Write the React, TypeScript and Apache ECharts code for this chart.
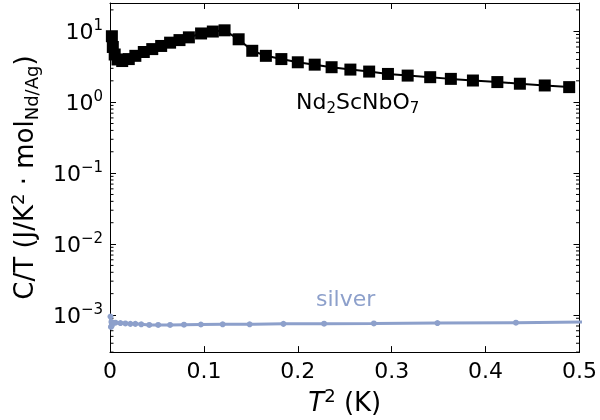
import React, { useEffect, useRef } from "react";
import * as echarts from "echarts";

const xBlack = [0.002, 0.003, 0.005, 0.008, 0.013, 0.020, 0.027, 0.036, 0.045, 0.0545, 0.064, 0.074, 0.084, 0.097, 0.1095, 0.122, 0.137, 0.1515, 0.166, 0.1825, 0.200, 0.218, 0.236, 0.256, 0.276, 0.296, 0.317, 0.341, 0.363, 0.3865, 0.4125, 0.4365, 0.463, 0.489];
const yBlack = [8.5, 6.0, 4.7, 4.0, 3.8, 4.05, 4.5, 5.1, 5.6, 6.2, 6.9, 7.5, 8.2, 9.3, 9.9, 10.3, 7.7, 5.3, 4.5, 4.05, 3.65, 3.38, 3.11, 2.88, 2.70, 2.50, 2.37, 2.25, 2.13, 2.02, 1.92, 1.82, 1.72, 1.63];

const xSilver = [0.0005, 0.001, 0.0015, 0.002, 0.0058, 0.0111, 0.0164, 0.0217, 0.027, 0.0333, 0.0418, 0.0513, 0.064, 0.0788, 0.0968, 0.120, 0.1487, 0.1847, 0.228, 0.281, 0.3487, 0.4323, 0.53];
const ySilver = [9.5e-4, 6.8e-4, 8.0e-4, 7.1e-4, 7.8e-4, 7.7e-4, 7.6e-4, 7.5e-4, 7.5e-4, 7.4e-4, 7.25e-4, 7.25e-4, 7.25e-4, 7.3e-4, 7.35e-4, 7.4e-4, 7.4e-4, 7.5e-4, 7.55e-4, 7.6e-4, 7.7e-4, 7.8e-4, 8.0e-4];

const xTicks = [0, 0.1, 0.2, 0.3, 0.4, 0.5];
const yMin = 3e-4;
const yMax = 25;
const minorMantissas = [2, 3, 4, 5, 6, 7, 8, 9];
const decades = [-4, -3, -2, -1, 0, 1];

const FONT = "DejaVu Sans";
const SILVER = "#8da0cb";

export default function App() {
  const ref = useRef<HTMLDivElement>(null);
  useEffect(() => {
    const chart = echarts.init(ref.current!, null, { renderer: "svg" });
    const minorVals: number[][] = [];
    for (const d of decades)
      for (const m of minorMantissas) {
        const v = m * Math.pow(10, d);
        if (v > yMin && v < yMax) minorVals.push([0, v]);
      }
    const supRich = {
      sup: { fontSize: 15, fontFamily: FONT, color: "#000", verticalAlign: "top", lineHeight: 14 },
      sub: { fontSize: 15, fontFamily: FONT, color: "#000", verticalAlign: "bottom", lineHeight: 14 },
      n: { fontSize: 22, fontFamily: FONT, color: "#000", lineHeight: 28 },
    };
    const nameRich = {
      sup: { fontSize: 18, fontFamily: FONT, color: "#000", verticalAlign: "top", lineHeight: 16 },
      sub: { fontSize: 18, fontFamily: FONT, color: "#000", verticalAlign: "bottom", lineHeight: 16 },
      i: { fontSize: 26, fontFamily: FONT, fontStyle: "italic", color: "#000", lineHeight: 32 },
      n: { fontSize: 26, fontFamily: FONT, color: "#000", lineHeight: 32 },
    };
    const axisLine = { show: true, onZero: false, lineStyle: { color: "#000", width: 1 } };
    const tick = { show: true, inside: true, length: 6, lineStyle: { color: "#000", width: 1 } };
    const option: any = {
      animation: false,
      grid: { left: 108, right: 20, top: 3, bottom: 65 },
      xAxis: [
        {
          type: "value", min: xTicks[0], max: xTicks[xTicks.length - 1], interval: 0.1, position: "bottom",
          axisLine, axisTick: tick, splitLine: { show: false },
          axisLabel: {
            fontSize: 22, fontFamily: FONT, color: "#000", margin: 7,
            formatter: (v: number) => (v === 0 ? "0" : v.toFixed(1)),
          },
          name: "{i|T}{sup|2}{n| (K)}", nameLocation: "middle", nameGap: 32,
          nameTextStyle: { fontSize: 26, fontFamily: FONT, color: "#000", rich: nameRich },
        },
        {
          type: "value", min: xTicks[0], max: xTicks[xTicks.length - 1], interval: 0.1, position: "top",
          axisLine, axisTick: tick, splitLine: { show: false }, axisLabel: { show: false },
        },
      ],
      yAxis: [
        {
          type: "log", logBase: 10, min: yMin, max: yMax, position: "left",
          axisLine, axisTick: tick, splitLine: { show: false },
          axisLabel: {
            fontSize: 22, fontFamily: FONT, color: "#000", margin: 7, showMinLabel: false, showMaxLabel: false,
            formatter: (v: number) => {
              const e = Math.round(Math.log10(v));
              return "{n|10}{sup|" + (e < 0 ? "\u2212" + -e : String(e)) + "}";
            },
            rich: supRich,
          },
          name: "{n|C/T (J/K}{sup|2}{n| \u00b7 mol}{sub|Nd/Ag}{n|)}", nameLocation: "middle", nameRotate: 90, nameGap: 70,
          nameTextStyle: { fontSize: 26, fontFamily: FONT, color: "#000", rich: nameRich },
        },
        {
          type: "log", logBase: 10, min: yMin, max: yMax, position: "right",
          axisLine, axisTick: tick, splitLine: { show: false }, axisLabel: { show: false },
        },
      ],
      series: [
        {
          type: "custom", silent: true, z: 1, data: minorVals,
          renderItem: (params: any, api: any) => {
            const cs = params.coordSys;
            const y = api.coord([0, api.value(1)])[1];
            return {
              type: "group",
              children: [
                { type: "line", shape: { x1: cs.x, y1: y, x2: cs.x + 3.5, y2: y }, style: { stroke: "#000", lineWidth: 1 } },
                { type: "line", shape: { x1: cs.x + cs.width, y1: y, x2: cs.x + cs.width - 3.5, y2: y }, style: { stroke: "#000", lineWidth: 1 } },
              ],
            };
          },
        },
        {
          type: "line", name: "silver", data: xSilver.map((x, i) => [x, ySilver[i]]),
          symbol: "circle", symbolSize: 6, clip: true,
          lineStyle: { color: SILVER, width: 3 }, itemStyle: { color: SILVER },
        },
        {
          type: "line", name: "Nd2ScNbO7", data: xBlack.map((x, i) => [x, yBlack[i]]),
          symbol: "rect", symbolSize: 12, clip: true,
          lineStyle: { color: "#000", width: 2 }, itemStyle: { color: "#000" },
        },
      ],
      graphic: [
        {
          type: "text", x: 296, y: 101,
          style: {
            text: "{n|Nd}{sub|2}{n|ScNbO}{sub|7}", fill: "#000", fontSize: 22, fontFamily: FONT,
            verticalAlign: "middle", rich: supRich,
          },
        },
        {
          type: "text", x: 316, y: 298,
          style: { text: "silver", fill: SILVER, fontSize: 22, fontFamily: FONT, verticalAlign: "middle" },
        },
      ],
    };
    chart.setOption(option);
    return () => chart.dispose();
  }, []);
  return <div ref={ref} style={{ position: "fixed", left: 0, top: 0, width: 600, height: 420 }} />;
}
